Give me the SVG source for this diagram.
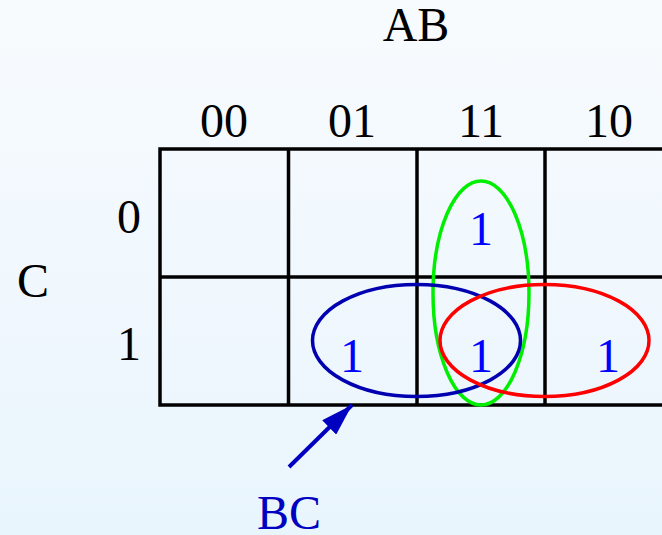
<svg xmlns="http://www.w3.org/2000/svg" width="662" height="535" viewBox="0 0 662 535">
  <defs>
    <linearGradient id="bg" x1="0" y1="0" x2="0" y2="1">
      <stop offset="0" stop-color="#f8fbfe"/>
      <stop offset="1" stop-color="#e9f5fd"/>
    </linearGradient>
    <marker id="ah" viewBox="0 0 32 20" refX="32" refY="10" markerWidth="32" markerHeight="20" markerUnits="userSpaceOnUse" orient="auto">
      <path d="M0,0 L32,10 L0,20 Z" fill="#0000c0"/>
    </marker>
  </defs>
  <style>
    text { font-family: "Liberation Serif", "Times New Roman", serif; font-size: 48px; text-anchor: middle; }
    .lbl { fill: #000000; }
    .one { fill: #0000ff; }
    .grid { fill: none; stroke: #000000; stroke-width: 3.5; }
    .loop { fill: none; stroke-width: 3.5; }
  </style>
  <rect x="0" y="0" width="662" height="535" fill="url(#bg)"/>

  <g id="headers">
    <text class="lbl" x="416" y="41" font-size="46">AB</text>
    <text class="lbl" x="224" y="137">00</text>
    <text class="lbl" x="352" y="137">01</text>
    <text class="lbl" x="481" y="137">11</text>
    <text class="lbl" x="609" y="137">10</text>
    <text class="lbl" x="33" y="297" font-size="46">C</text>
    <text class="lbl" x="129" y="233">0</text>
    <text class="lbl" x="129" y="360">1</text>
  </g>

  <g id="grid">
    <rect class="grid" x="160" y="149" width="520" height="256"/>
    <line class="grid" x1="160" y1="277" x2="662" y2="277"/>
    <line class="grid" x1="288.5" y1="149" x2="288.5" y2="405"/>
    <line class="grid" x1="417" y1="149" x2="417" y2="405"/>
    <line class="grid" x1="545" y1="149" x2="545" y2="405"/>
  </g>

  <g id="cells">
    <text class="one" x="481" y="245">1</text>
    <text class="one" x="352" y="372">1</text>
    <text class="one" x="481" y="372">1</text>
    <text class="one" x="608" y="372">1</text>
  </g>

  <g id="loop-green">
    <ellipse class="loop" cx="481" cy="293" rx="48" ry="112" stroke="#00ee00"/>
  </g>
  <g id="loop-blue">
    <ellipse class="loop" cx="416.5" cy="340.5" rx="104" ry="56" stroke="#0000b0"/>
  </g>
  <g id="loop-red">
    <ellipse class="loop" cx="544.5" cy="340.5" rx="104.5" ry="56" stroke="#ff0000"/>
  </g>

  <g id="connectors">
    <line x1="289" y1="467" x2="352" y2="405" stroke="#0000c0" stroke-width="4" marker-end="url(#ah)"/>
  </g>

  <g id="label-bc">
    <text x="289" y="529" fill="#0000c0" font-size="46">BC</text>
  </g>
</svg>
